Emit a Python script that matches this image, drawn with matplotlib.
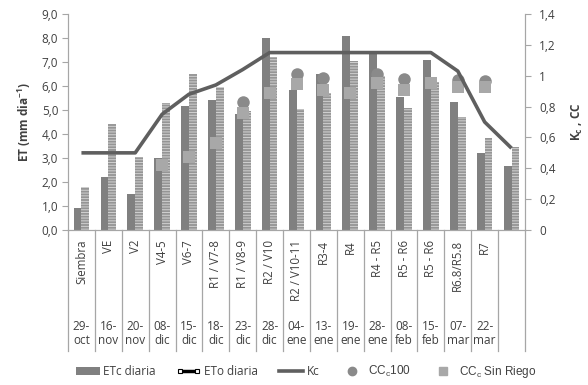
import matplotlib
matplotlib.use("Agg")
import matplotlib.pyplot as plt
import matplotlib.transforms as mtransforms
from matplotlib.patches import Patch
from matplotlib.lines import Line2D
from matplotlib.legend_handler import HandlerLine2D
from matplotlib.ticker import FuncFormatter, MultipleLocator
import numpy as np

plt.rcParams['font.family'] = ['Open Sans', 'DejaVu Sans']
plt.rcParams['hatch.linewidth'] = 0.7

stages = ["Siembra", "VE", "V2", "V4-5", "V6-7", "R1 / V7-8", "R1 / V8-9", "R2 / V10",
          "R2 / V10-11", "R3-4", "R4", "R4 - R5", "R5 - R6", "R5 - R6", "R6.8/R5.8", "R7", ""]
dates = ["29-\noct", "16-\nnov", "20-\nnov", "08-\ndic", "15-\ndic", "18-\ndic", "23-\ndic",
         "28-\ndic", "04-\nene", "13-\nene", "19-\nene", "28-\nene", "08-\nfeb", "15-\nfeb",
         "07-\nmar", "22-\nmar", ""]
etc_diaria = [0.9, 2.2, 1.5, 3.0, 5.15, 5.4, 4.85, 8.0, 5.85, 6.5, 8.1, 7.35, 5.55, 7.1, 5.35, 3.2, 2.65]
eto_diaria = [1.8, 4.4, 3.05, 5.3, 6.5, 5.95, 4.95, 7.2, 5.05, 5.7, 7.05, 6.4, 5.1, 6.15, 4.7, 3.85, 3.45]
kc = [0.5, 0.5, 0.5, 0.75, 0.88, 0.94, 1.04, 1.15, 1.15, 1.15, 1.15, 1.15, 1.15, 1.15, 1.03, 0.70, 0.53]
nan = np.nan
cc_100 = [nan, nan, nan, nan, nan, nan, 0.83, nan, 1.01, 0.985, nan, 1.01, 0.98, nan, 0.97, 0.965, nan]
cc_sin_riego = [nan, nan, nan, 0.42, 0.47, 0.565, 0.76, 0.89, 0.945, 0.91, 0.89, 0.95, 0.91, 0.955, 0.93, 0.925, nan]

W, H = 588, 385
fig = plt.figure(figsize=(W / 100, H / 100), dpi=100)
L, R, T, B = 68, 525, 14, 230
ax = fig.add_axes([L / W, 1 - B / H, (R - L) / W, (B - T) / H])
ax2 = ax.twinx()

x = np.arange(len(stages))
bw = 0.29
txtc = '#404040'
spc = '#a6a6a6'

ax.bar(x - bw / 2, etc_diaria, width=bw, color='#808080', linewidth=0, zorder=2)
ax.bar(x + bw / 2, eto_diaria, width=bw, color='#959595', edgecolor='#d0d0d0',
       hatch='------', linewidth=0, zorder=2)

ax.set_xlim(-0.5, len(stages) - 0.5)
ax.set_ylim(0, 9)
ax.yaxis.set_major_locator(MultipleLocator(1))
ax.yaxis.set_major_formatter(FuncFormatter(lambda v, p: f"{v:.1f}".replace('.', ',')))
ax2.set_ylim(0, 1.4)
ax2.yaxis.set_major_locator(MultipleLocator(0.2))
ax2.yaxis.set_major_formatter(FuncFormatter(lambda v, p: f"{round(v, 1):g}".replace('.', ',')))

ax2.plot(x, cc_100, linestyle='none', marker='o', markersize=9, color='#8a8a8a',
         markeredgewidth=0, zorder=3)
ax2.plot(x, cc_sin_riego, linestyle='none', marker='s', markersize=8.5, color='#a8a8a8',
         markeredgewidth=0, zorder=4)
ax2.plot(x, kc, color='#5f5f5f', linewidth=2.6, zorder=5, solid_capstyle='butt')

for a in (ax, ax2):
    a.spines['top'].set_visible(False)
    for s in a.spines.values():
        s.set_color(spc)
        s.set_linewidth(0.8)
    a.tick_params(axis='y', colors=spc, labelcolor=txtc, labelsize=8.5, length=4, width=0.8)
ax.set_xticks([])
ax2.set_xticks([])
ax.tick_params(axis='y', pad=3)
ax2.tick_params(axis='y', pad=6)

ax.set_ylabel("ET (mm dia$^{\\mathregular{-1}}$)", fontsize=8.5, fontweight='bold', color=txtc, labelpad=6)
ax2.set_ylabel("K$_{\\mathregular{c}}$ , CC", fontsize=8.5, fontweight='bold', color=txtc, labelpad=10)

trans = mtransforms.blended_transform_factory(ax.transData, ax.transAxes)
ah = B - T
sep_bottom = -(351 - B) / ah
for b in np.arange(-0.5, len(stages), 1.0):
    ax.add_line(Line2D([b, b], [0, sep_bottom], transform=trans, color=spc, linewidth=0.9,
                       clip_on=False))
for i, (s, d) in enumerate(zip(stages, dates)):
    ax.text(i, -(240 - B) / ah, s, transform=trans, rotation=90, ha='center', va='top',
            fontsize=8.3, color=txtc)
    ax.text(i, -(320 - B) / ah, d, transform=trans, ha='center', va='top',
            fontsize=8.5, color=txtc, linespacing=1.15)

eto_handle = Line2D([0], [0], color='black', linewidth=2.5, marker='s', markersize=3.5,
                    markerfacecolor='white', markeredgecolor='black', markeredgewidth=0.8)
handles = [
    Patch(facecolor='#808080', edgecolor='none'),
    eto_handle,
    Line2D([0], [0], color='#5f5f5f', linewidth=2.6),
    Line2D([0], [0], linestyle='none', marker='o', markersize=6, color='#8a8a8a'),
    Line2D([0], [0], linestyle='none', marker='s', markersize=6, color='#a8a8a8'),
]
labels = ["ETc diaria", "ETo diaria", "Kc", "CC$_{\\mathregular{c}}$100", "CC$_{\\mathregular{c}}$ Sin Riego"]
leg = fig.legend(handles, labels, loc='center', bbox_to_anchor=(306 / W, 1 - 372 / H), ncol=5,
                 frameon=False, fontsize=8.5, handlelength=2.0, handletextpad=0.3,
                 columnspacing=1.8, labelcolor=txtc,
                 handler_map={eto_handle: HandlerLine2D(numpoints=2)})
for t in leg.get_texts()[3:]:
    t.set_fontfamily(['Liberation Sans', 'DejaVu Sans'])

fig.savefig("out.png", dpi=100)
